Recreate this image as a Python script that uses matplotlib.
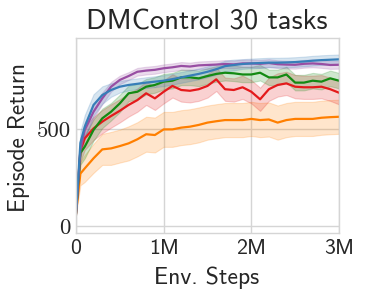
import matplotlib
matplotlib.use("Agg")
import matplotlib.pyplot as plt
import numpy as np

steps_m = [0, 0.05, 0.1, 0.2, 0.3, 0.4, 0.5, 0.6, 0.7, 0.8, 0.9, 1.0, 1.1, 1.2, 1.3, 1.4, 1.5,
           1.6, 1.7, 1.8, 1.9, 2.0, 2.1, 2.2, 2.3, 2.4, 2.5, 2.6, 2.7, 2.8, 2.9, 3.0]

orange = [67, 270, 297, 349, 395, 400, 412, 426, 447, 473, 469, 498, 498, 507, 512, 521, 533,
          540, 546, 546, 546, 552, 546, 549, 533, 546, 552, 552, 552, 558, 561, 563]
orange_err = [10, 60, 70, 75, 80, 85, 85, 88, 88, 90, 90, 90, 90, 90, 90, 90, 88,
              88, 88, 88, 88, 88, 88, 88, 88, 88, 88, 88, 88, 88, 88, 88]

red = [67, 390, 452, 503, 538, 567, 594, 624, 649, 684, 658, 692, 722, 701, 697, 705, 722,
       756, 705, 701, 715, 692, 653, 705, 727, 735, 718, 715, 715, 718, 705, 687]
red_err = [10, 60, 60, 60, 60, 60, 60, 60, 60, 60, 60, 60, 60, 60, 60, 60, 60,
           60, 60, 60, 60, 60, 60, 60, 60, 60, 60, 60, 60, 60, 60, 60]

green = [67, 376, 409, 495, 555, 589, 632, 684, 692, 718, 727, 744, 749, 766, 766, 761, 773,
         784, 790, 787, 781, 781, 790, 766, 766, 781, 739, 739, 749, 744, 761, 749]
green_err = [10, 60, 60, 55, 50, 45, 45, 40, 40, 40, 40, 40, 40, 40, 40, 40, 40,
             40, 40, 40, 40, 40, 40, 40, 40, 40, 40, 40, 40, 40, 40, 40]

purple = [67, 392, 495, 589, 658, 718, 753, 773, 795, 801, 805, 813, 818, 825, 822, 828, 830,
          832, 835, 833, 838, 838, 836, 840, 834, 832, 831, 836, 838, 835, 830, 831]
purple_err = [10, 40, 40, 35, 30, 25, 22, 20, 20, 20, 20, 20, 20, 20, 20, 20, 20,
              20, 20, 20, 20, 20, 20, 20, 20, 20, 20, 20, 20, 20, 20, 20]

blue = [67, 428, 512, 624, 675, 701, 718, 727, 733, 739, 744, 749, 757, 766, 775, 784, 795,
        808, 824, 830, 835, 838, 840, 842, 842, 843, 845, 848, 852, 855, 857, 859]
blue_err = [10, 60, 60, 55, 45, 35, 30, 28, 28, 28, 28, 28, 28, 28, 28, 28, 28,
            28, 28, 28, 25, 25, 25, 25, 25, 25, 25, 25, 25, 25, 25, 25]

series = [
    (orange, orange_err, "#ff7f00"),
    (red, red_err, "#e41a1c"),
    (green, green_err, "#138a13"),
    (purple, purple_err, "#984ea3"),
    (blue, blue_err, "#377eb8"),
]

xticks = [0, 1, 2, 3]
xticklabels = ["0", "1M", "2M", "3M"]
yticks = [0, 500]
yticklabels = ["0", "500"]

W, H = 365, 299
fig = plt.figure(figsize=(W / 100, H / 100), dpi=100)
ax = fig.add_axes([76 / W, (H - 233) / H, (339 - 76) / W, (233 - 38) / H])

x = np.array(steps_m)
for vals, err, col in series:
    v = np.array(vals, dtype=float)
    e = np.array(err, dtype=float)
    ax.fill_between(x, v - e, v + e, color=col, alpha=0.2, linewidth=0.8)
    ax.plot(x, v, color=col, linewidth=1.6)

txt = "#262626"
ax.set_xlim(0, 3)
ax.set_ylim(-36, 969)
ax.set_xticks(xticks)
ax.set_xticklabels(xticklabels, fontfamily="cmss10", fontsize=15)
ax.set_yticks(yticks)
ax.set_yticklabels(yticklabels, fontfamily="cmr10", fontsize=16.5)
ax.tick_params(axis="y", length=0, pad=3.6, colors=txt)
ax.tick_params(axis="x", length=0, pad=4, colors=txt)
ax.grid(True, color="#d5d5d5", linewidth=1.0)
ax.set_axisbelow(True)
for s in ax.spines.values():
    s.set_color("#d5d5d5")
    s.set_linewidth(1.0)

title = fig.text(207 / W, (H - 29) / H, "DMControl 30 tasks", fontfamily="cmss10",
                 fontsize=20, color=txt, ha="center", va="baseline")
xlab = fig.text(207 / W, (H - 284) / H, "Env. Steps", fontfamily="cmss10",
                fontsize=15, color=txt, ha="center", va="baseline")
ylab = fig.text(8 / W, (H - 137.5) / H, "Episode Return", fontfamily="cmss10",
                fontsize=15, color=txt, ha="left", va="center", rotation=90)

# fit text sizes to the measured extents of the reference
fig.canvas.draw()
r = fig.canvas.get_renderer()
for t, target, dim in [(title, 242, "w"), (xlab, 105, "w"), (ylab, 149, "h")]:
    bb = t.get_window_extent(r)
    cur = bb.width if dim == "w" else bb.height
    t.set_fontsize(t.get_fontsize() * target / cur)
for lab in ax.get_xticklabels():
    if lab.get_text() == "1M":
        bb = lab.get_window_extent(r)
        fs = lab.get_fontsize() * 30 / bb.width
for lab in ax.get_xticklabels():
    lab.set_fontsize(fs)
for lab in ax.get_yticklabels():
    if lab.get_text() == "500":
        bb = lab.get_window_extent(r)
        fsy = lab.get_fontsize() * 34 / bb.width
for lab in ax.get_yticklabels():
    lab.set_fontsize(fsy)

fig.savefig("out.png", dpi=100)
